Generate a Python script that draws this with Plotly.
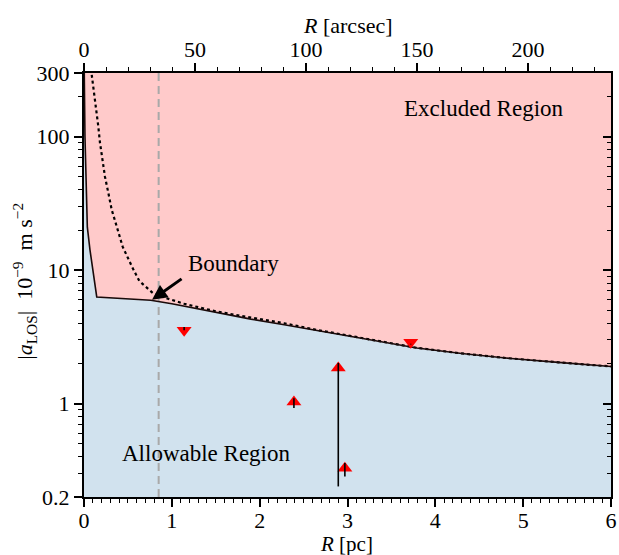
import numpy as np
import plotly.graph_objects as go

# ---------------- data ----------------
# boundary (solid) curve: R [pc], |a_LOS| [1e-9 m s^-2]
bound_R = [0.003, 0.011, 0.038, 0.068, 0.145, 0.30, 0.50, 0.76, 1.00, 1.15, 1.52, 1.90,
           2.28, 2.66, 3.04, 3.41, 3.79, 4.30, 4.80, 5.40, 6.00]
bound_a = [300, 100, 21.0, 14.2, 6.30, 6.22, 6.10, 5.95, 5.60, 5.35, 4.78, 4.30,
           3.90, 3.52, 3.19, 2.88, 2.61, 2.38, 2.20, 2.04, 1.90]

# dotted curve
dot_R = [0.088, 0.117, 0.145, 0.163, 0.182, 0.213, 0.239, 0.277, 0.315, 0.372, 0.44,
         0.55, 0.63, 0.80, 1.00, 1.14, 1.51, 1.90, 2.28, 2.66, 3.04, 3.41, 3.79,
         4.30, 4.80, 5.40, 6.00]
dot_a = [291, 212, 159, 119, 90, 67, 50, 38, 28.4, 21.3, 15.0,
         10.5, 8.3, 6.6, 6.0, 5.6, 4.9, 4.45, 4.0, 3.56, 3.21, 2.89, 2.62,
         2.38, 2.20, 2.04, 1.90]

# core radius (dashed vertical line)
R_core = 0.85

# measured points
up_R = [2.39, 2.895, 2.97]
up_a = [1.03, 1.85, 0.329]
up_lo = [0.93, 0.24, 0.285]
up_hi = [1.10, 2.02, 0.36]

down_R = [1.14, 3.72]
down_a = [3.55, 2.88]
down_lo = [3.55, 2.78]
down_hi = [3.76, 2.81]

# axes
x_range = [0, 6]
y_min, y_max = 0.2, 300
arcsec_per_pc = 39.57
y_ticks = [0.2, 1, 10, 100, 300]
y_minor = [0.3, 0.4, 0.5, 0.6, 0.7, 0.8, 0.9, 2, 3, 4, 5, 6, 7, 8, 9,
           20, 30, 40, 50, 60, 70, 80, 90, 200]
x_ticks = [0, 1, 2, 3, 4, 5, 6]
top_ticks = [0, 50, 100, 150, 200]

# ---------------- figure ----------------
PINK = '#ffcaca'
BLUE = '#d1e2ee'
FONT = 'Liberation Serif'

fig = go.Figure()

# allowable region fill (below boundary)
fig.add_trace(go.Scatter(
    x=[0] + bound_R + [x_range[1], 0],
    y=[y_max] + bound_a + [y_min, y_min],
    mode='lines', fill='toself', fillcolor=BLUE,
    line=dict(width=0, color=BLUE), hoverinfo='skip', showlegend=False))

# dashed vertical line
fig.add_trace(go.Scatter(
    x=[R_core, R_core], y=[y_min, y_max], mode='lines',
    line=dict(color='#a9a9a9', width=2, dash='8px,5px'), showlegend=False))

# dotted curve
fig.add_trace(go.Scatter(
    x=dot_R, y=dot_a, mode='lines',
    line=dict(color='black', width=2.2, dash='dot'), showlegend=False))

# boundary
fig.add_trace(go.Scatter(
    x=bound_R, y=bound_a, mode='lines',
    line=dict(color='#1a0a0a', width=1.6), showlegend=False))

# markers
fig.add_trace(go.Scatter(
    x=up_R, y=up_a, mode='markers',
    marker=dict(symbol='triangle-up', size=13, color='red', line=dict(width=0)),
    showlegend=False))
fig.add_trace(go.Scatter(
    x=down_R, y=down_a, mode='markers',
    marker=dict(symbol='triangle-down', size=13, color='red', line=dict(width=0)),
    showlegend=False))

# error bars (black)
ex, ey = [], []
for r, lo, hi in zip(up_R + down_R, up_lo + down_lo, up_hi + down_hi):
    ex += [r, r, None]
    ey += [lo, hi, None]
fig.add_trace(go.Scatter(x=ex, y=ey, mode='lines',
                         line=dict(color='black', width=1.6), showlegend=False))

# invisible traces for secondary axes
fig.add_trace(go.Scatter(x=[0], y=[1], xaxis='x2', yaxis='y', mode='markers',
                         marker=dict(opacity=0), showlegend=False, hoverinfo='skip'))
fig.add_trace(go.Scatter(x=[0], y=[1], xaxis='x', yaxis='y2', mode='markers',
                         marker=dict(opacity=0), showlegend=False, hoverinfo='skip'))

tickfont = dict(family=FONT, size=22, color='black')
titlefont = dict(family=FONT, size=21, color='black')

common = dict(tickwidth=1.5, tickcolor='black', showline=True, linecolor='black',
              linewidth=2.2, showgrid=False, zeroline=False, automargin=False)

fig.update_layout(
    template='none',
    width=619, height=555,
    margin=dict(l=84, r=8, t=73, b=58),
    plot_bgcolor=PINK, paper_bgcolor='white',
    font=dict(family=FONT, size=22, color='black'),
    xaxis=dict(range=x_range, tickvals=x_ticks, ticks='outside', ticklen=8,
               tickfont=tickfont, ticklabelstandoff=-6, **common,
               minor=dict(dtick=0.1, ticks='outside', ticklen=4, tickwidth=1.2,
                          tickcolor='black', showgrid=False)),
    xaxis2=dict(range=[x_range[0] * arcsec_per_pc, x_range[1] * arcsec_per_pc],
                overlaying='x', side='top', tickvals=top_ticks, ticks='outside',
                ticklen=8, tickfont=tickfont, ticklabelstandoff=-3, **common,
                minor=dict(dtick=10, ticks='outside', ticklen=4, tickwidth=1.2,
                           tickcolor='black', showgrid=False)),
    yaxis=dict(type='log', range=[np.log10(y_min), np.log10(y_max)], tickvals=y_ticks,
               ticktext=[str(v) for v in y_ticks], ticks='outside', ticklen=8,
               tickfont=tickfont, **common,
               minor=dict(tickvals=y_minor, ticks='outside', ticklen=4, tickwidth=1.2,
                          tickcolor='black', showgrid=False)),
    yaxis2=dict(type='log', range=[np.log10(y_min), np.log10(y_max)], overlaying='y',
                side='right', tickvals=y_ticks, showticklabels=False, ticks='inside',
                ticklen=8, **common,
                minor=dict(tickvals=y_minor, ticks='inside', ticklen=4, tickwidth=1.2,
                           tickcolor='black', showgrid=False)),
    annotations=[
        # axis titles
        dict(xref='paper', yref='paper', x=0.499, y=-0.110, text='<i>R</i> [pc]',
             showarrow=False, font=titlefont, xanchor='center', yanchor='middle'),
        dict(xref='paper', yref='paper', x=0.5, y=1.113, text='<i>R</i> [arcsec]',
             showarrow=False, font=dict(family=FONT, size=22, color='black'),
             xanchor='center', yanchor='middle'),
        dict(xref='paper', yref='paper', x=-0.112, y=0.51, textangle=-90,
             text='|<i>a</i><sub>LOS</sub>|  10<sup>−9</sup>  m s<sup>−2</sup>',
             showarrow=False, font=dict(family=FONT, size=22, color='black'),
             xanchor='center', yanchor='middle'),
        # region labels
        dict(x=4.556, y=np.log10(162), text='Excluded Region', showarrow=False,
             font=dict(family=FONT, size=23, color='black')),
        dict(x=1.39, y=np.log10(0.422), text='Allowable Region', showarrow=False,
             font=dict(family=FONT, size=23, color='black')),
        dict(x=1.70, y=np.log10(11.2), text='Boundary', showarrow=False,
             font=dict(family=FONT, size=23, color='black')),
        dict(x=0.775, y=np.log10(6.0), text='', showarrow=True, arrowhead=2,
             arrowsize=1.0, arrowwidth=3, arrowcolor='black', ax=31, ay=-22),
    ],
)

fig.write_html('out.html')
